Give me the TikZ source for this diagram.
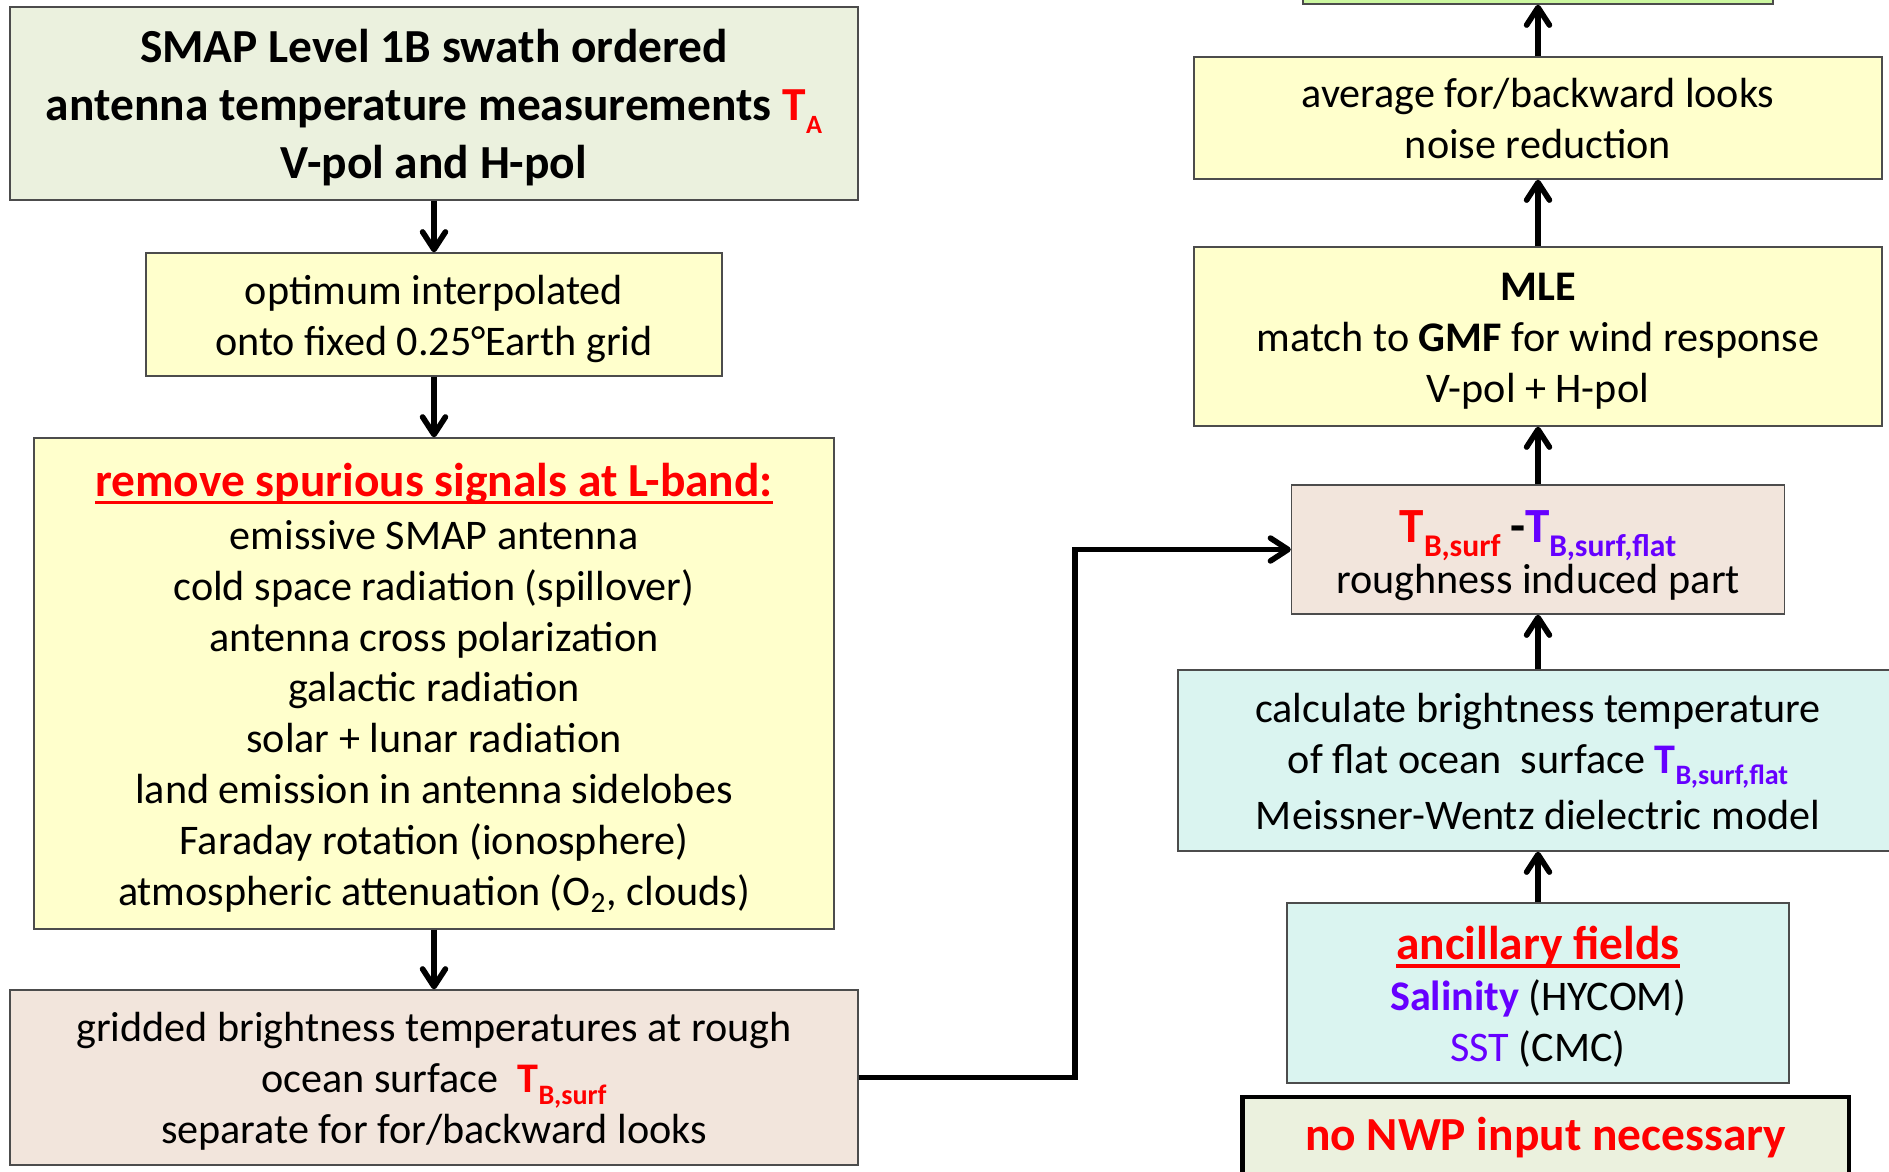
\documentclass[tikz,border=0pt]{standalone}
\usepackage{fontspec}
\setmainfont{Carlito}
\usetikzlibrary{arrows.meta}
\definecolor{tred}{HTML}{FF0000}
\definecolor{tpurple}{HTML}{6600FF}
\definecolor{srcfill}{HTML}{EBF1DE}
\definecolor{stepyellow}{HTML}{FFFFCC}
\definecolor{gridfill}{HTML}{F2E5DC}
\definecolor{oceanfill}{HTML}{DAF4F0}
\definecolor{outgreen}{HTML}{CCF7A0}
\newcommand{\Tsym}[4]{{\color{#1}\bfseries\fontsize{#2}{#2}\selectfont T\raisebox{-0.28em}{\fontsize{#3}{#3}\selectfont #4}}}
\newcommand{\headline}[1]{{\color{tred}\bfseries\fontsize{27}{33}\selectfont\setbox0\hbox{#1}\rlap{\rule[-4.5pt]{\wd0}{1.8pt}}\box0}}
\newcommand{\topstrut}[1][0.97em]{\rule{0pt}{#1}}
\newcommand{\botstrut}[1][0.25em]{\rule[-#1]{0pt}{#1}}

\begin{document}
\begin{tikzpicture}[x=0.02cm, y=-0.02cm, >={Straight Barb[length=10pt,width=13pt,round]},
  every node/.style={font=\fontsize{24}{29}\selectfont},
  box/.style={draw=black!70, line width=0.8pt, inner sep=0pt, align=center},
  flow/.style={->, line width=3.2pt}]
  \useasboundingbox (0,0) rectangle (1889,1171);
  \node[box, fill=srcfill, minimum width=16.96cm, minimum height=3.86cm, font=\bfseries\fontsize{27}{33}\selectfont] (src) at (434,103.5) {\topstrut SMAP Level 1B swath ordered\\antenna temperature measurements \Tsym{tred}{27}{15}{A}\\V-pol and H-pol\botstrut};
  \node[box, fill=stepyellow, minimum width=11.52cm, minimum height=2.46cm] (interp) at (434,314.5) {\topstrut optimum interpolated\\onto fixed 0.25°Earth grid\botstrut};
  \node[box, fill=stepyellow, minimum width=16.00cm, minimum height=9.82cm] (spur) at (434,683.5) {\topstrut[26pt]\headline{remove spurious signals at L-band:}\\[1pt]emissive SMAP antenna\\cold space radiation (spillover)\\antenna cross polarization\\galactic radiation\\solar + lunar radiation\\land emission in antenna sidelobes\\Faraday rotation (ionosphere)\\atmospheric attenuation (O\textsubscript{2}, clouds)\botstrut};
  \node[box, fill=gridfill, minimum width=16.96cm, minimum height=3.50cm] (grid) at (434,1077.5) {\topstrut gridded brightness temperatures at rough\\ocean surface~~\Tsym{tred}{24}{16}{B,surf}\\separate for for/backward looks\botstrut};
  \node[box, fill=outgreen, minimum width=9.40cm, minimum height=2.16cm] (out) at (1538,-50) {};
  \node[box, fill=stepyellow, minimum width=13.76cm, minimum height=2.44cm] (avg) at (1538,118) {\topstrut average for/backward looks\\noise reduction\botstrut};
  \node[box, fill=stepyellow, minimum width=13.76cm, minimum height=3.58cm] (mle) at (1538,336.5) {\topstrut\textbf{MLE}\\match to \textbf{GMF} for wind response\\V-pol + H-pol\botstrut};
  \node[box, fill=gridfill, minimum width=9.86cm, minimum height=2.58cm] (diff) at (1538,549.5) {\topstrut[27pt]\Tsym{tred}{28}{18}{B,surf}\ {\bfseries\fontsize{28}{28}\selectfont -}\Tsym{tpurple}{28}{18}{B,surf,flat}\\roughness induced part\botstrut};
  \node[box, fill=oceanfill, minimum width=14.40cm, minimum height=3.62cm] (calc) at (1538,760.5) {\topstrut calculate brightness temperature\\of flat ocean~~surface \Tsym{tpurple}{24}{16}{B,surf,flat}\\[3pt]Meissner-Wentz dielectric model\botstrut};
  \node[box, fill=oceanfill, minimum width=10.04cm, minimum height=3.60cm] (anc) at (1538,993) {\topstrut[26pt]\headline{ancillary fields}\\{\bfseries\color{tpurple}Salinity} (HYCOM)\\{\color{tpurple}SST} (CMC)\botstrut};
  \node[box, fill=srcfill, draw=black, line width=2.8pt, minimum width=12.14cm, minimum height=1.64cm, font=\bfseries\fontsize{27}{33}\selectfont, text=tred] (nwp) at (1545.5,1138) {no NWP input necessary};
  \coordinate (bend) at (1075,549.5);
  \draw[flow] (src.south) -- (interp.north);
  \draw[flow] (interp.south) -- (spur.north);
  \draw[flow] (spur.south) -- (grid.north);
  \draw[flow] (grid.east) -| (bend) -- (diff.west);
  \draw[flow] (anc.north) -- (calc.south);
  \draw[flow] (calc.north) -- (diff.south);
  \draw[flow] (diff.north) -- (mle.south);
  \draw[flow] (mle.north) -- (avg.south);
  \draw[flow] (avg.north) -- (out.south);
\end{tikzpicture}
\end{document}
